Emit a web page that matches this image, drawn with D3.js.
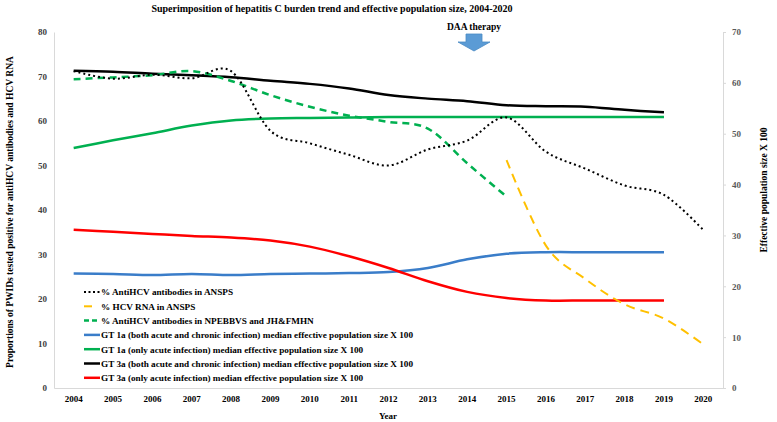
<!DOCTYPE html>
<html>
<head>
<meta charset="utf-8">
<script src="https://cdn.jsdelivr.net/npm/d3@7"></script>
<style>
  html, body { margin: 0; padding: 0; background: #fff; }
  svg { display: block; font-family: "Liberation Serif", "Times New Roman", serif; }
</style>
</head>
<body>
<svg id="chart" width="777" height="422"></svg>
<script>
const years = [2004,2005,2006,2007,2008,2009,2010,2011,2012,2013,2014,2015,2016,2017,2018,2019,2020];
const leftTicks = [0,10,20,30,40,50,60,70,80];
const rightTicks = [0,10,20,30,40,50,60,70];

// Left axis (%)
const antiAnsps = [71.2,69.5,70.4,69.6,71.2,57.8,55.0,52.4,50.0,53.6,55.6,60.8,53.1,49.3,45.5,43.4,35.5];
const rnaAnsps = [null,null,null,null,null,null,null,null,null,null,null,51.2,32.0,24.5,18.8,15.6,9.8];
const antiNpebbvs = [69.4,69.8,70.3,71.2,69.0,65.8,63.2,61.2,59.8,58.3,50.5,43.0,null,null,null,null,null];
// Right axis (Ne x 100)
const gt1aBoth = [22.5,22.4,22.2,22.4,22.2,22.4,22.5,22.6,22.8,23.6,25.3,26.4,26.7,26.7,26.7,26.7,null];
const gt1aAcute = [47.2,48.7,50.1,51.6,52.6,53.0,53.1,53.2,53.3,53.3,53.3,53.3,53.3,53.3,53.3,53.3,null];
const gt3aBoth = [62.4,62.2,61.8,61.5,61.1,60.4,59.8,58.9,57.6,56.9,56.4,55.6,55.4,55.3,54.7,54.2,null];
const gt3aAcute = [31.1,30.7,30.3,29.9,29.6,29.0,27.8,25.9,23.6,21.0,18.9,17.7,17.2,17.2,17.2,17.2,null];

const legendLabels = [
  "% AntiHCV antibodies in ANSPS",
  "% HCV RNA in ANSPS",
  "% AntiHCV antibodies in NPEBBVS and JH&FMHN",
  "GT 1a (both acute and chronic infection) median effective population size X 100",
  "GT 1a (only acute infection) median effective population size X 100",
  "GT 3a (both acute and chronic infection) median effective population size X 100",
  "GT 3a (only acute infection) median effective population size X 100"
];

const svg = d3.select("#chart");
const L = 54, R = 723, T = 32, B = 388;

const x = d3.scaleBand().domain(years).range([L, R]).padding(0);
const xc = d => x(d) + x.bandwidth() / 2;
const yL = d3.scaleLinear().domain([0, 80]).range([B, T]);
const yR = d3.scaleLinear().domain([0, 70]).range([B, T]);

// Title
svg.append("text").attr("x", 332).attr("y", 12).attr("text-anchor", "middle")
  .attr("font-size", 10).attr("font-weight", "bold")
  .text("Superimposition of hepatitis C burden trend and effective population size, 2004-2020");

// Axes
const gl = svg.append("g").attr("transform", `translate(${L},0)`)
  .call(d3.axisLeft(yL).tickValues(leftTicks).tickSize(0).tickPadding(7));
gl.select(".domain").attr("stroke", "#d9d9d9");
gl.selectAll("text").attr("font-size", 9).attr("font-weight", "bold").attr("fill", "#404040")
  .attr("font-family", "Liberation Serif");

const gr = svg.append("g").attr("transform", `translate(${R},0)`)
  .call(d3.axisRight(yR).tickValues(rightTicks).tickSize(3).tickPadding(6));
gr.select(".domain").attr("stroke", "#d9d9d9");
gr.selectAll("line").attr("stroke", "#d9d9d9");
gr.selectAll("text").attr("font-size", 9).attr("font-weight", "bold").attr("fill", "#595959")
  .attr("font-family", "Liberation Serif");

const gb = svg.append("g").attr("transform", `translate(0,${B})`)
  .call(d3.axisBottom(x).tickSize(0).tickPadding(8));
gb.select(".domain").attr("stroke", "#d9d9d9");
gb.selectAll("text").attr("font-size", 9).attr("font-weight", "bold").attr("fill", "#000")
  .attr("font-family", "Liberation Serif");

// Axis titles
svg.append("text").attr("transform", "translate(13,212) rotate(-90)").attr("text-anchor", "middle")
  .attr("font-size", 9.5).attr("font-weight", "bold")
  .text("Proportions of PWIDs tested positive for antiHCV antibodies and HCV RNA");
svg.append("text").attr("transform", "translate(767,190) rotate(-90)").attr("text-anchor", "middle")
  .attr("font-size", 9.5).attr("font-weight", "bold")
  .text("Effective population size X 100");
svg.append("text").attr("x", 388).attr("y", 419).attr("text-anchor", "middle")
  .attr("font-size", 9).attr("font-weight", "bold").text("Year");

// Series
const series = [
  { vals: antiAnsps, y: yL, color: "#000000", width: 2, dash: "2 3" },
  { vals: rnaAnsps, y: yL, color: "#FFC000", width: 2, dash: "9 6" },
  { vals: antiNpebbvs, y: yL, color: "#00B050", width: 2.5, dash: "7 5" },
  { vals: gt1aBoth, y: yR, color: "#3A7DC9", width: 2.5, dash: null },
  { vals: gt1aAcute, y: yR, color: "#00B050", width: 2.5, dash: null },
  { vals: gt3aBoth, y: yR, color: "#000000", width: 2.5, dash: null },
  { vals: gt3aAcute, y: yR, color: "#FF0000", width: 2.5, dash: null }
];
const drawOrder = [4, 3, 6, 5, 2, 1, 0];
drawOrder.forEach(i => {
  const s = series[i];
  const pts = years.map((yr, k) => ({ yr, v: s.vals[k] })).filter(p => p.v !== null);
  const line = d3.line().x(p => xc(p.yr)).y(p => s.y(p.v)).curve(d3.curveCardinal.tension(0));
  svg.append("path").attr("d", line(pts)).attr("fill", "none")
    .attr("stroke", s.color).attr("stroke-width", s.width)
    .attr("stroke-dasharray", s.dash);
});

// Legend
const lg = svg.append("g");
legendLabels.forEach((lab, i) => {
  const yy = 292 + i * 14.3;
  const s = series[i];
  if (i === 1) {
    lg.append("line").attr("x1", 84).attr("x2", 92).attr("y1", yy).attr("y2", yy)
      .attr("stroke", s.color).attr("stroke-width", 2);
  } else {
    lg.append("line").attr("x1", 84).attr("x2", 100).attr("y1", yy).attr("y2", yy)
      .attr("stroke", s.color).attr("stroke-width", s.width)
      .attr("stroke-dasharray", s.dash ? (i === 0 ? "2 2.5" : "5 3") : null);
  }
  lg.append("text").attr("x", 101).attr("y", yy + 3.3).attr("font-size", 9.2).attr("font-weight", "bold")
    .text(lab);
});

// DAA therapy annotation
svg.append("text").attr("x", 474).attr("y", 30).attr("text-anchor", "middle")
  .attr("font-size", 9.5).attr("font-weight", "bold").text("DAA therapy");
const ax = 474;
svg.append("path")
  .attr("d", `M${ax-8},34 L${ax+8},34 L${ax+8},42 L${ax+16},42 L${ax},51 L${ax-16},42 L${ax-8},42 Z`)
  .attr("fill", "#5B9BD5").attr("stroke", "#4A8AC4").attr("stroke-width", 0.8);
</script>
</body>
</html>
